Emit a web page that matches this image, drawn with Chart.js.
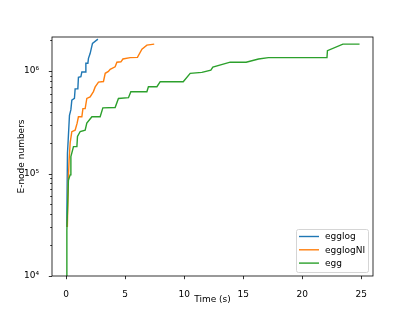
<!DOCTYPE html>
<html>
<head>
<meta charset="utf-8">
<script src="https://cdn.jsdelivr.net/npm/chart.js@4.4.0/dist/chart.umd.min.js"></script>
<style>
  body { margin: 0; background: #fff; }
  #wrap { width: 415px; height: 311px; position: relative; }
</style>
</head>
<body>
<div id="wrap"><canvas id="myChart"></canvas></div>
<script>
// series
var egglogTime  = [0.05, 0.11, 0.17, 0.28, 0.40, 0.48, 0.70, 0.76, 0.99, 1.04, 1.25, 1.33, 1.61, 1.67, 1.84, 1.89, 2.03, 2.23, 2.69];
var egglogNodes = [30000, 158000, 210000, 370000, 420000, 520000, 540000, 670000, 670000, 870000, 880000, 980000, 980000, 1190000, 1190000, 1330000, 1480000, 1860000, 2050000];

var egglogNITime  = [0.10, 0.19, 0.25, 0.34, 0.48, 0.76, 0.93, 1.04, 1.33, 1.42, 1.61, 1.75, 2.03, 2.31, 2.46, 2.74, 3.16, 3.31, 3.58, 3.73, 4.15, 4.30, 4.64, 4.81, 5.42, 6.04, 6.42, 6.84, 7.46];
var egglogNINodes = [30000, 92000, 135000, 200000, 256000, 265000, 310000, 358000, 358000, 430000, 430000, 540000, 560000, 630000, 700000, 780000, 790000, 950000, 990000, 1040000, 1100000, 1220000, 1230000, 1310000, 1350000, 1360000, 1630000, 1790000, 1830000];

var eggTime  = [0.00, 0.06, 0.19, 0.34, 0.40, 0.62, 0.91, 0.96, 1.19, 1.61, 1.75, 2.18, 2.88, 3.11, 4.15, 4.43, 5.28, 5.48, 6.84, 6.97, 7.69, 7.97, 9.92, 10.51, 11.50, 12.26, 12.43, 13.90, 15.25, 16.30, 17.14, 22.10, 22.14, 23.45, 24.86];
var eggNodes = [10000, 28000, 86000, 97000, 146000, 183000, 183000, 230000, 257000, 265000, 310000, 358000, 358000, 437000, 440000, 540000, 550000, 628000, 628000, 703000, 703000, 787000, 787000, 950000, 970000, 1020000, 1090000, 1220000, 1220000, 1310000, 1350000, 1350000, 1580000, 1830000, 1830000];

var seriesNames  = ["egglog", "egglogNI", "egg"];
var seriesColors = ["#1f77b4", "#ff7f0e", "#2ca02c"];

var xTicks = [0, 5, 10, 15, 20, 25];
var yMajorTicks = [1e4, 1e5, 1e6];
var yTickLabels = ["10\u2074", "10\u2075", "10\u2076"];

var xMin = -1.2, xMax = 26.0;
var yMin = 1e4, yMax = 2.148e6;

function pts(xs, ys) {
  return xs.map(function (t, i) { return { x: t, y: ys[i] }; });
}

// minor ticks 2..9 in each decade
var yAllTicks = [];
yMajorTicks.forEach(function (d) {
  for (var m = 1; m <= 9; m++) {
    if (m * d <= yMax) yAllTicks.push(m * d);
  }
});

var font = "'DejaVu Sans', sans-serif";

var framePlugin = {
  id: "frame",
  afterDraw: function (chart) {
    var ctx = chart.ctx;
    var a = chart.chartArea;
    var xs = chart.scales.x, ys = chart.scales.y;
    ctx.save();
    ctx.strokeStyle = "#000";
    ctx.lineWidth = 0.8;
    ctx.strokeRect(a.left, a.top, a.right - a.left, a.bottom - a.top);

    // tick marks
    ctx.beginPath();
    xTicks.forEach(function (v) {
      var px = Math.round(xs.getPixelForValue(v)) + 0.5;
      ctx.moveTo(px, a.bottom);
      ctx.lineTo(px, a.bottom + 3.2);
    });
    yAllTicks.forEach(function (v) {
      var py = Math.round(ys.getPixelForValue(v)) + 0.5;
      var len = yMajorTicks.indexOf(v) >= 0 ? 3.2 : 1.8;
      ctx.moveTo(a.left, py);
      ctx.lineTo(a.left - len, py);
    });
    ctx.stroke();

    // legend, lower right
    var bx = 296.5, by = 229.5, bw = 72, bh = 43;
    ctx.fillStyle = "rgba(255,255,255,0.8)";
    ctx.strokeStyle = "#d5d5d5";
    ctx.lineWidth = 1;
    ctx.beginPath();
    ctx.roundRect(bx, by, bw, bh, 2);
    ctx.fill();
    ctx.stroke();
    ctx.font = "9px " + font;
    ctx.textBaseline = "middle";
    ctx.textAlign = "left";
    seriesNames.forEach(function (name, i) {
      var ly = 236.5 + i * 13.3;
      ctx.strokeStyle = seriesColors[i];
      ctx.lineWidth = 1.4;
      ctx.beginPath();
      ctx.moveTo(299, ly);
      ctx.lineTo(319, ly);
      ctx.stroke();
      ctx.fillStyle = "#000";
      ctx.fillText(name, 325, ly + 0.5);
    });
    ctx.restore();
  }
};

new Chart("myChart", {
  type: "line",
  data: {
    datasets: [
      { label: seriesNames[0], data: pts(egglogTime, egglogNodes), borderColor: seriesColors[0], order: 2 },
      { label: seriesNames[1], data: pts(egglogNITime, egglogNINodes), borderColor: seriesColors[1], order: 1 },
      { label: seriesNames[2], data: pts(eggTime, eggNodes), borderColor: seriesColors[2], order: 0 }
    ]
  },
  options: {
    responsive: true,
    maintainAspectRatio: false,
    animation: false,
    layout: { padding: { top: 37, right: 42, left: 0, bottom: 0 } },
    elements: {
      line: { borderWidth: 1.4, tension: 0, fill: false },
      point: { radius: 0 }
    },
    plugins: {
      legend: { display: false },
      tooltip: { enabled: false }
    },
    scales: {
      x: {
        type: "linear",
        min: xMin,
        max: xMax,
        grid: { display: false },
        border: { display: false },
        afterBuildTicks: function (scale) {
          scale.ticks = xTicks.map(function (v) { return { value: v }; });
        },
        afterFit: function (scale) { scale.height = 35; },
        ticks: {
          color: "#000",
          font: { family: font, size: 9 },
          padding: 5,
          maxRotation: 0,
          autoSkip: false
        },
        title: {
          display: true,
          text: "Time (s)",
          color: "#000",
          font: { family: font, size: 9 },
          padding: { top: 0, bottom: 6 }
        }
      },
      y: {
        type: "logarithmic",
        min: yMin,
        max: yMax,
        grid: { display: false },
        border: { display: false },
        afterBuildTicks: function (scale) {
          scale.ticks = yAllTicks.map(function (v) { return { value: v }; });
        },
        afterFit: function (scale) { scale.width = 52; },
        ticks: {
          color: "#000",
          font: { family: font, size: 9 },
          padding: 5,
          autoSkip: false,
          callback: function (v) {
            var i = yMajorTicks.indexOf(v);
            return i >= 0 ? yTickLabels[i] : "";
          }
        },
        title: {
          display: true,
          text: "E-node numbers",
          color: "#000",
          font: { family: font, size: 9 },
          padding: { top: 16, bottom: 0 }
        }
      }
    }
  },
  plugins: [framePlugin]
});
</script>
</body>
</html>
